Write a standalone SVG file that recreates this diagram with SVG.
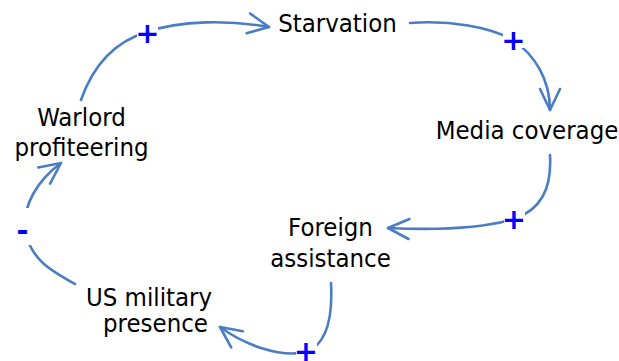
<svg xmlns="http://www.w3.org/2000/svg" width="619" height="361" viewBox="0 0 619 361">
  <style>
    .node { font-family: "DejaVu Sans Condensed", "DejaVu Sans", sans-serif; font-size: 25.5px; fill: #000; text-anchor: middle; }
    .link { fill: none; stroke: #4a7dc4; stroke-width: 2.6; stroke-linecap: round; }
    .pol { font-family: "DejaVu Sans", sans-serif; font-weight: bold; font-size: 29px; fill: #0000ff; text-anchor: middle; }
    .bg { fill: #fff; }
  </style>
  <defs>
    <marker id="arrow" markerUnits="userSpaceOnUse" markerWidth="40" markerHeight="40" refX="0" refY="0" orient="auto" overflow="visible">
      <path d="M-21,-10 L0,0 L-21,10" fill="none" stroke="#4a7dc4" stroke-width="2.6" stroke-linecap="round" stroke-linejoin="round"/>
    </marker>
  </defs>

  <!-- causal links -->
  <g id="connectors">
    <path class="link" marker-end="url(#arrow)" d="M81,100 C95,60 120,40 147,32 C180,20 230,20 269,27"/>
    <path class="link" marker-end="url(#arrow)" d="M410,23 C450,20 490,27 513,40 C535,55 550,80 550,110"/>
    <path class="link" marker-end="url(#arrow)" d="M550,155 C552,190 540,210 514,219 C480,229 430,230 388,228"/>
    <path class="link" marker-end="url(#arrow)" d="M331,283 C333,320 325,345 306,352 C280,358 245,345 220,327"/>
    <path class="link" marker-end="url(#arrow)" d="M75,284 C50,270 32,260 25,232 C22,205 38,180 61,163"/>
  </g>

  <!-- polarity labels -->
  <g id="polarity">
    <rect class="bg" x="137" y="22" width="21" height="21"/>
    <text class="pol" x="147.5" y="42.5">+</text>
    <rect class="bg" x="503" y="31" width="21" height="17"/>
    <text class="pol" x="513.5" y="50">+</text>
    <rect class="bg" x="504" y="209" width="21" height="20"/>
    <text class="pol" x="514" y="229">+</text>
    <rect class="bg" x="296" y="342" width="21" height="19"/>
    <text class="pol" x="306" y="361">+</text>
    <rect class="bg" x="15" y="208" width="16" height="37"/>
    <text class="pol" x="22.5" y="240">-</text>
  </g>

  <g id="starvation">
    <text class="node" x="337.5" y="32">Starvation</text>
  </g>
  <g id="media-coverage">
    <text class="node" x="527" y="139">Media coverage</text>
  </g>
  <g id="foreign-assistance">
    <text class="node" x="330.5" y="236">Foreign</text>
    <text class="node" x="330.5" y="266.5">assistance</text>
  </g>
  <g id="us-military-presence">
    <text class="node" x="149" y="305.5">US military</text>
    <text class="node" x="155.5" y="332">presence</text>
  </g>
  <g id="warlord-profiteering">
    <text class="node" x="81.5" y="126">Warlord</text>
    <text class="node" x="81.5" y="156">profiteering</text>
  </g>
</svg>
